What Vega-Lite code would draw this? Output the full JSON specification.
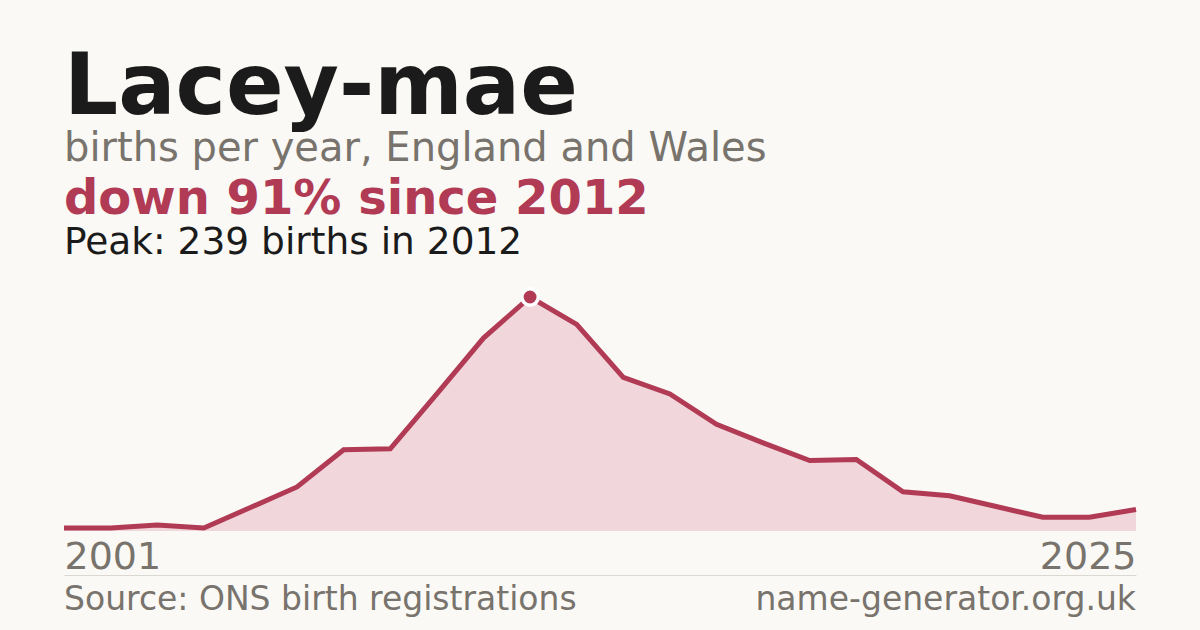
{
  "$schema": "https://vega.github.io/schema/vega-lite/v6.json",
  "background": "#faf9f5",
  "padding": {"top": 46, "left": 54, "right": 54, "bottom": 0},
  "config": {"font": "DejaVu Sans", "view": {"stroke": null}},
  "title": {
    "text": "Lacey-mae",
    "subtitle": "births per year, England and Wales",
    "anchor": "start",
    "frame": "group",
    "font": "DejaVu Sans",
    "fontSize": 85,
    "fontWeight": "bold",
    "color": "#1b1b1b",
    "subtitleFont": "DejaVu Sans",
    "subtitleFontSize": 40,
    "subtitleColor": "#78736c",
    "subtitlePadding": -3,
    "offset": 6
  },
  "spacing": 8,
  "resolve": {"scale": {"x": "independent"}},
  "vconcat": [
    {
      "width": 1072,
      "height": 234,
      "title": {
        "text": "down 91% since 2012",
        "subtitle": "Peak: 239 births in 2012",
        "anchor": "start",
        "frame": "group",
        "fontSize": 48,
        "fontWeight": "bold",
        "color": "#b13a55",
        "subtitleFontSize": 37.5,
        "subtitleColor": "#1b1b1b",
        "subtitlePadding": 0,
        "offset": 20
      },
      "data": {
        "values": [
          {"year": 2001, "births": 3},
          {"year": 2003, "births": 3},
          {"year": 2004, "births": 6},
          {"year": 2005, "births": 3},
          {"year": 2006, "births": 24},
          {"year": 2007, "births": 45},
          {"year": 2008, "births": 83},
          {"year": 2009, "births": 84},
          {"year": 2010, "births": 140},
          {"year": 2011, "births": 197},
          {"year": 2012, "births": 239},
          {"year": 2013, "births": 211},
          {"year": 2014, "births": 157},
          {"year": 2015, "births": 140},
          {"year": 2016, "births": 109},
          {"year": 2017, "births": 90},
          {"year": 2018, "births": 72},
          {"year": 2019, "births": 73},
          {"year": 2020, "births": 40},
          {"year": 2021, "births": 36},
          {"year": 2022, "births": 25},
          {"year": 2023, "births": 14},
          {"year": 2024, "births": 14},
          {"year": 2025, "births": 22}
        ]
      },
      "encoding": {
        "x": {
          "field": "year",
          "type": "ordinal",
          "scale": {"type": "point", "padding": 0},
          "axis": {
            "values": [2001, 2025],
            "title": null,
            "grid": false,
            "offset": 44,
            "domain": true,
            "domainColor": "#dad8d2",
            "domainWidth": 1,
            "ticks": false,
            "tickSize": 0,
            "labelPadding": -37,
            "labelAngle": 0,
            "labelFont": "DejaVu Sans",
            "labelFontSize": 38,
            "labelColor": "#78736c",
            "labelAlign": {"condition": {"test": "datum.value == 2001", "value": "left"}, "value": "right"}
          }
        },
        "y": {
          "field": "births",
          "type": "quantitative",
          "scale": {"domain": [0, 239], "nice": false},
          "axis": null
        }
      },
      "layer": [
        {"mark": {"type": "area", "color": "#f1d6db", "line": false}},
        {"mark": {"type": "line", "color": "#b13a55", "strokeWidth": 5}},
        {
          "transform": [{"filter": "datum.year == 2012"}],
          "mark": {"type": "point", "shape": "circle", "filled": true, "fill": "#b13a55", "stroke": "#ffffff", "strokeWidth": 3.5, "size": 270, "opacity": 1}
        }
      ]
    },
    {
      "width": 1072,
      "height": 50,
      "data": {
        "values": [
          {"side": "left", "label": "Source: ONS birth registrations"},
          {"side": "right", "label": "name-generator.org.uk"}
        ]
      },
      "mark": {
        "type": "text",
        "fontSize": 33,
        "color": "#78736c",
        "baseline": "alphabetic",
        "align": {"expr": "datum.side == 'left' ? 'left' : 'right'"}
      },
      "encoding": {
        "x": {
          "field": "side",
          "type": "nominal",
          "scale": {"type": "point", "padding": 0, "domain": ["left", "right"]},
          "axis": null
        },
        "text": {"field": "label"}
      }
    }
  ]
}
